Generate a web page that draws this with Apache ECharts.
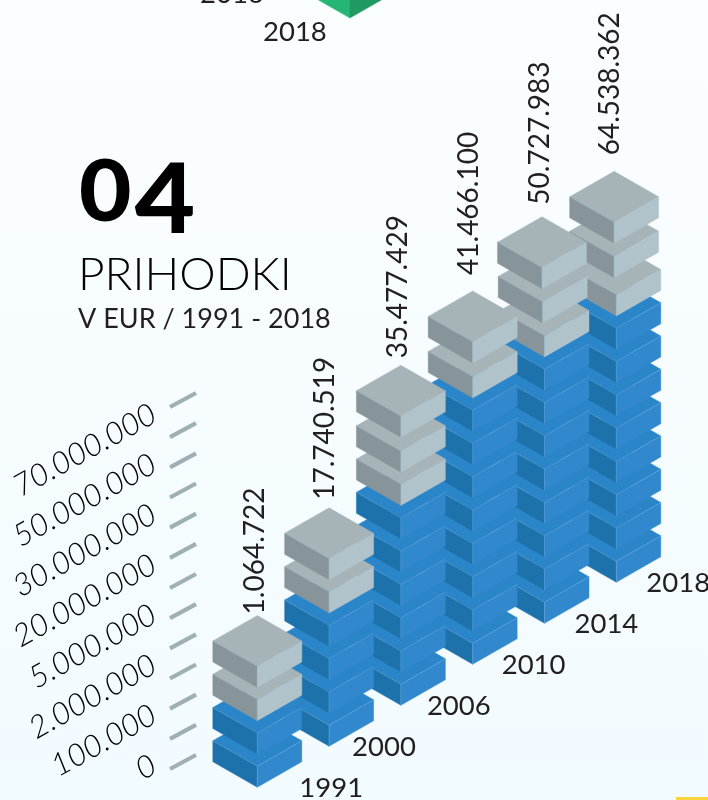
<!DOCTYPE html>
<html>
<head>
<meta charset="utf-8">
<title>Prihodki</title>
<style>
  html, body { margin: 0; padding: 0; background: #f8fdff; }
  #chart { width: 708px; height: 800px; }
</style>
<script src="https://cdn.jsdelivr.net/npm/echarts@6/dist/echarts.min.js"></script>
</head>
<body>
<div id="chart"></div>
<script>
// chart data
var years = ['1991', '2000', '2006', '2010', '2014', '2018'];
var revenue = ['1.064.722', '17.740.519', '35.477.429', '41.466.100', '50.727.983', '64.538.362'];
var blueBlocks = [2, 4, 6, 8, 8, 8];
// grey blocks sit a bit loose on the top columns, so levels are not whole numbers
var greyLevels = [[2, 3], [4, 5], [6, 7, 8.05], [8, 9.05], [8, 9.02, 10.05], [8, 9.15, 10.18]];
var greyDrift = [[0, 0], [0, 0], [0, 0, 0], [0, 0], [0, -0.025, -0.035], [0, -0.03, -0.03]];
var tickLabels = ['0', '100.000', '2.000.000', '5.000.000', '20.000.000', '30.000.000', '50.000.000', '70.000.000'];
var tickMarks = [0, 1, 2, 3, 4, 5, 6, 7, 8, 9, 10, 11, 12];

// look of the blocks
var halfW = 44.5, halfD = 25.5, blockH = 21;
var rise = 1.231;   // each column climbs this many levels
var colors = {
  blue:  { top: '#2a85c9', left: '#1e72ab', right: '#3188cc', edge: 'rgba(190,225,250,0.4)' },
  grey:  { top: '#a6b4b8', left: '#87959a', right: '#b1c3ca', edge: 'rgba(150,200,230,0.4)' },
  green: { top: '#25b574', left: '#25b574', right: '#1f9a63', edge: 'rgba(0,0,0,0)' }
};
var textColor = '#231f20';
var labelFont = 'Lato, "Noto Sans", sans-serif';
// gap above the column and nudge of year labels, px
var valueGap = [1, 8, 7, 16, 12, 16];
var valueNudge = [0, -2, -1, -2, -3, -4];
var yearNudge = [42, 23, 26, 29, 30, 30];

var blockRows = [];
for (var c = years.length - 1; c >= 0; c--) {
  for (var i = 0; i < blueBlocks[c]; i++) blockRows.push([c, i + c * rise, 'blue']);
  for (var g = 0; g < greyLevels[c].length; g++) {
    blockRows.push([c + greyDrift[c][g], greyLevels[c][g] + c * rise, 'grey']);
  }
}
blockRows.unshift([1.29, 23.1, 'green']);

function renderBlock(params, api) {
  var p = api.coord([api.value(0), api.value(1)]);
  var col = colors[api.value(2)];
  var x = p[0], y = p[1], t = y - blockH;
  function face(points, fill) {
    return { type: 'polygon', shape: { points: points }, style: { fill: fill, stroke: fill, lineWidth: 0.4 } };
  }
  return {
    type: 'group',
    children: [
      face([[x, t], [x - halfW, t - halfD], [x, t - 2 * halfD], [x + halfW, t - halfD]], col.top),
      face([[x, y], [x - halfW, y - halfD], [x - halfW, t - halfD], [x, t]], col.left),
      face([[x, y], [x + halfW, y - halfD], [x + halfW, t - halfD], [x, t]], col.right),
      // thin light line on the front edges
      { type: 'polyline', shape: { points: [[x - halfW, t - halfD], [x, t], [x + halfW, t - halfD]] }, style: { fill: 'none', stroke: col.edge, lineWidth: 0.5 } },
      { type: 'line', shape: { x1: x, y1: t, x2: x, y2: y }, style: { stroke: col.edge, lineWidth: 0.5 } }
    ]
  };
}

// rotated revenue labels above each column
function renderValue(params, api) {
  var c = api.value(0);
  var grey = greyLevels[c];
  var top = grey[grey.length - 1] + c * rise;
  var p = api.coord([c, top]);
  return {
    type: 'text',
    x: p[0] + valueNudge[c] - 2,
    y: p[1] - blockH - 2 * halfD - valueGap[c],
    rotation: Math.PI / 2,
    style: { text: revenue[c], font: '28px ' + labelFont, fill: textColor, textAlign: 'left', textVerticalAlign: 'middle' }
  };
}

function renderYear(params, api) {
  var c = api.value(0);
  var p = api.coord([c, c * rise]);
  return {
    type: 'text',
    x: p[0] + yearNudge[c],
    y: p[1] + 1,
    style: { text: years[c], font: '27.5px ' + labelFont, fill: textColor, textAlign: 'left', textVerticalAlign: 'middle' }
  };
}

function renderTick(params, api) {
  var p = api.coord([0, api.value(0)]);
  return {
    type: 'line',
    shape: { x1: p[0] - 26, y1: p[1] + 14, x2: p[0], y2: p[1] },
    style: { stroke: '#9fb0b3', lineWidth: 4.2 }
  };
}

var chart = echarts.init(document.getElementById('chart'), null, { renderer: 'canvas' });
var hidden = { show: false };

chart.setOption({
  animation: false,
  backgroundColor: {
    type: 'linear', x: 0, y: 0, x2: 0, y2: 1,
    colorStops: [{ offset: 0, color: '#fbfeff' }, { offset: 1, color: '#f2fbff' }]
  },
  grid: [
    // blocks: 1 level = 33.3px, 1 column = 71.8px
    { left: 257.3, width: 359, top: 121.3, height: 666 },
    // scale labels
    { left: 154, width: 10, top: 412, height: 351 },
    // scale ticks
    { left: 196, width: 10, top: 393, height: 362 }
  ],
  xAxis: [
    { type: 'value', gridIndex: 0, min: 0, max: 5, show: false },
    { type: 'value', gridIndex: 1, min: 0, max: 1, show: false },
    { type: 'value', gridIndex: 2, min: 0, max: 1, show: false }
  ],
  yAxis: [
    { type: 'value', gridIndex: 0, min: 0, max: 20, show: false },
    {
      type: 'category', gridIndex: 1, data: tickLabels, boundaryGap: false,
      axisLine: hidden, axisTick: hidden, splitLine: hidden,
      axisLabel: {
        rotate: 29, margin: 0, interval: 0, color: '#000',
        fontFamily: labelFont, fontStyle: 'italic', fontWeight: 300, fontSize: 31
      }
    },
    { type: 'value', gridIndex: 2, min: 0, max: 12, show: false }
  ],
  series: [
    {
      type: 'custom', xAxisIndex: 0, yAxisIndex: 0, clip: false,
      data: blockRows, renderItem: renderBlock, silent: true
    },
    {
      type: 'custom', xAxisIndex: 0, yAxisIndex: 0, clip: false, z: 3,
      data: years.map(function (y, i) { return [i]; }), encode: { x: 0 }, renderItem: renderValue, silent: true
    },
    {
      type: 'custom', xAxisIndex: 0, yAxisIndex: 0, clip: false, z: 3,
      data: years.map(function (y, i) { return [i]; }), encode: { x: 0 }, renderItem: renderYear, silent: true
    },
    {
      type: 'custom', xAxisIndex: 2, yAxisIndex: 2, clip: false,
      data: tickMarks.map(function (t) { return [t]; }), encode: { y: 0 }, renderItem: renderTick, silent: true
    }
  ],
  graphic: [
    {
      type: 'text', x: 79, y: 152, scaleX: 1.065,
      style: {
        text: '{a|0}{b|4}',
        rich: {
          a: { font: '900 85px Lato, Inter, sans-serif', fill: '#000', lineHeight: 85, padding: [0, 3, 15, 0] },
          b: { font: '900 98px Lato, Inter, sans-serif', fill: '#000', lineHeight: 98 }
        }
      }
    },
    { type: 'text', left: 78, top: 252, style: { text: 'PRIHODKI', font: '300 46px ' + labelFont, fill: '#000' } },
    { type: 'text', left: 78, top: 306, style: { text: 'V EUR / 1991 - 2018', font: '27px ' + labelFont, fill: textColor } },
    { type: 'text', left: 263, top: 18, style: { text: '2018', font: '27.5px ' + labelFont, fill: textColor } },
    { type: 'text', left: 200, top: -20, style: { text: '2016', font: '27.5px ' + labelFont, fill: textColor } },
    { type: 'rect', left: 676, top: 797, shape: { width: 32, height: 3 }, style: { fill: '#fbd33f' } }
  ]
});
</script>
</body>
</html>
